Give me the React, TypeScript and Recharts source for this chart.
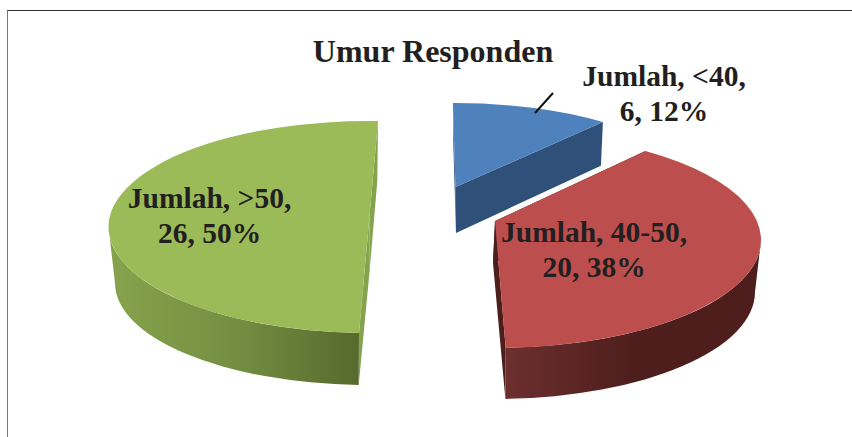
import { PieChart, Pie } from "recharts";

const categories = ["<40", "40-50", ">50"];
const counts = [6, 20, 26];
const topColors = ["#4f81bd", "#bc4f4d", "#9bbb59"];
const faceColors = ["#2f5079", "#4e1e1d", "#84a34f"];
const wallStops = [
  ["#2f5079", "#2f5079", "#2f5079"],
  ["#6c2f2e", "#4e1e1d", "#4e1e1d"],
  ["#86a34c", "#748f42", "#576a2e"],
];

// hand-fitted 3D look, the original has perspective so each slice gets its own ellipse
const views = [
  { ex: 455, ey: 193, rx: 240, ry: 90, ax: 455.5, ay: 187, bx: 455.5, by: 235, brx: 236, bry: 88, abx: 456, aby: 233, startShift: 0, endShift: -3 },
  { ex: 495, ey: 240, rx: 266, ry: 108, ax: 495, ay: 221, bx: 495, by: 292, brx: 260, bry: 107, abx: 493, aby: 263, startShift: -6.6, endShift: -1.8 },
  { ex: 368.5, ey: 227, rx: 260, ry: 106, ax: 369.5, ay: 216, bx: 368, by: 283, brx: 253, bry: 102, abx: 369.7, aby: 270, startShift: 2.6, endShift: 2.6 },
];

const labelSpots = [
  { x: 664, y: 86 },
  { x: 594, y: 242 },
  { x: 209.5, y: 208 },
];

const tableData = categories.map((category, i) => ({ category, value: counts[i], idx: i }));

const rad = (d: number) => (d * Math.PI) / 180;
const pt = (x: number, y: number, a: number, b: number, t: number) => [
  x + a * Math.sin(rad(t)),
  y - b * Math.cos(rad(t)),
];
const fmt = (p: number[]) => `${p[0].toFixed(1)} ${p[1].toFixed(1)}`;

function Slice3D(props: any) {
  const i = props.idx ?? props.payload?.idx ?? 0;
  const v = views[i];
  const t0 = 90 - props.startAngle + v.startShift;
  const t1 = 90 - props.endAngle + v.endShift;

  const top = (t: number) => pt(v.ex, v.ey, v.rx, v.ry, t);
  const bot = (t: number) => pt(v.bx, v.by, v.brx, v.bry, t);
  const apex = [v.ax, v.ay];
  const apexB = [v.abx, v.aby];

  const face = (t: number) =>
    `M${fmt(top(t))} L${fmt(apex)} L${fmt(apexB)} L${fmt(bot(t))} Z`;

  // two arcs, a single 180 degree arc is unstable after rounding
  const tm = (t0 + t1) / 2;
  const surface = `M${fmt(apex)} L${fmt(top(t0))} A${v.rx} ${v.ry} 0 0 1 ${fmt(top(tm))} A${v.rx} ${v.ry} 0 0 1 ${fmt(top(t1))} Z`;

  const wa = Math.max(t0, 90);
  const wb = Math.min(t1, 270);
  const wall =
    wb > wa
      ? `M${fmt(top(wa))} A${v.rx} ${v.ry} 0 0 1 ${fmt(top(wb))} L${fmt(bot(wb))} A${v.brx} ${v.bry} 0 0 0 ${fmt(bot(wa))} Z`
      : null;

  const gradId = `wall-${i}`;
  return (
    <g>
      <defs>
        <linearGradient id={gradId} x1="0" y1="0" x2="1" y2="0">
          <stop offset="0%" stopColor={wallStops[i][0]} />
          <stop offset="50%" stopColor={wallStops[i][1]} />
          <stop offset="100%" stopColor={wallStops[i][2]} />
        </linearGradient>
      </defs>
      <path d={face(t0)} fill={faceColors[i]} />
      <path d={face(t1)} fill={faceColors[i]} />
      {wall && <path d={wall} fill={`url(#${gradId})`} />}
      <path d={surface} fill={topColors[i]} />
    </g>
  );
}

function renderLabel(props: any) {
  const i = props.idx ?? props.payload?.idx ?? props.index ?? 0;
  const spot = labelSpots[i];
  return (
    <g>
      {i === 0 && <line x1={553} y1={93} x2={535} y2={113} stroke="#111" strokeWidth={2} />}
      <text
        x={spot.x}
        y={spot.y}
        textAnchor="middle"
        fontFamily="'Liberation Serif', serif"
        fontWeight="bold"
        fontSize={29.5}
        fill="#231f20"
      >
        <tspan x={spot.x}>{`Jumlah, ${categories[i]},`}</tspan>
        <tspan x={spot.x} dy={35}>{`${counts[i]}, ${Math.round(props.percent * 100)}%`}</tspan>
      </text>
    </g>
  );
}

export default function App() {
  return (
    <div style={{ position: "absolute", left: 0, top: 0, width: 852, height: 437, background: "#fff", overflow: "hidden" }}>
      <div style={{ position: "absolute", left: 7, top: 10, width: 845, height: 427, borderTop: "1.5px solid #333", borderLeft: "1.5px solid #777", boxSizing: "border-box" }} />
      <PieChart width={852} height={437} margin={{ top: 0, right: 0, bottom: 0, left: 0 }} style={{ position: "absolute", left: 0, top: 0 }}>
        <text x={433} y={62} textAnchor="middle" fontFamily="'Liberation Serif', serif" fontWeight="bold" fontSize={32} fill="#231f20">
          Umur Responden
        </text>
        <Pie
          data={tableData}
          dataKey="value"
          nameKey="category"
          cx={430}
          cy={225}
          outerRadius={100}
          startAngle={90.5}
          endAngle={-269.5}
          stroke="none"
          shape={Slice3D}
          label={renderLabel}
          labelLine={false}
          isAnimationActive={false}
        />
      </PieChart>
    </div>
  );
}
